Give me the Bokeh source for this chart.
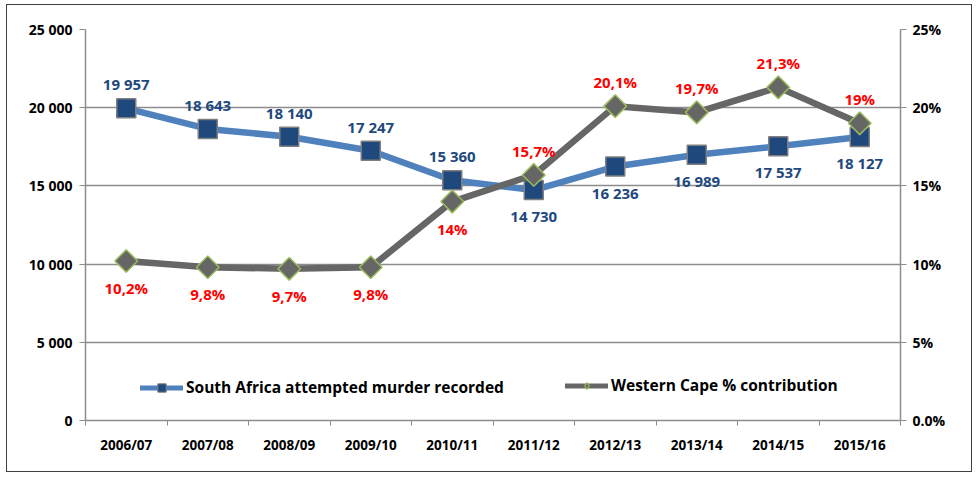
from bokeh.plotting import figure
from bokeh.models import Range1d, LinearAxis, FixedTicker, Legend, LegendItem, ColumnDataSource
from bokeh.core.properties import value
from bokeh.embed import file_html
from bokeh.resources import INLINE
import math

years = ["2006/07", "2007/08", "2008/09", "2009/10", "2010/11",
         "2011/12", "2012/13", "2013/14", "2014/15", "2015/16"]
sa_attempted = [19957, 18643, 18140, 17247, 15360, 14730, 16236, 16989, 17537, 18127]
sa_labels = ["19 957", "18 643", "18 140", "17 247", "15 360",
             "14 730", "16 236", "16 989", "17 537", "18 127"]
sa_label_side = ["above"] * 5 + ["below"] * 5
wc_pct = [10.2, 9.8, 9.7, 9.8, 14.0, 15.7, 20.1, 19.7, 21.3, 19.0]
wc_labels = ["10,2%", "9,8%", "9,7%", "9,8%", "14%",
             "15,7%", "20,1%", "19,7%", "21,3%", "19%"]
wc_label_side = ["below"] * 5 + ["above"] * 5
left_ticks = [0, 5000, 10000, 15000, 20000, 25000]
left_tick_labels = ["0", "5 000", "10 000", "15 000", "20 000", "25 000"]
right_ticks = [0, 5, 10, 15, 20, 25]
right_tick_labels = ["0.0%", "5%", "10%", "15%", "20%", "25%"]

FONT = "Open Sans"
AXIS_GRAY = "#8c8c8c"
BLUE_LINE = "#4f81bd"
BLUE_DARK = "#1f497d"
GRAY_LINE = "#666666"
GREEN = "#9bbb59"
RED = "#ff0000"

n = len(years)
xs = [i + 0.5 for i in range(n)]

p = figure(width=966, height=468, output_backend="svg", toolbar_location=None,
           x_range=Range1d(0, n), y_range=Range1d(left_ticks[0], left_ticks[-1]),
           min_border_left=78, min_border_right=73, min_border_top=24, min_border_bottom=53)
p.extra_y_ranges = {"pct": Range1d(right_ticks[0], right_ticks[-1])}
p.outline_line_color = None
p.background_fill_color = "white"
p.border_fill_color = "white"
p.styles = {"border": "1px solid #404040", "margin-left": "6px", "margin-top": "4px"}

# x axis
xa = p.xaxis[0]
xa.ticker = FixedTicker(ticks=xs, minor_ticks=list(range(n + 1)))
xa.major_label_overrides = {x: y for x, y in zip(xs, years)}
xa.major_tick_line_color = None
xa.minor_tick_line_color = AXIS_GRAY
xa.minor_tick_out = 5
xa.minor_tick_in = 0
xa.axis_line_color = AXIS_GRAY
xa.axis_line_width = 1.5
xa.major_label_text_font = FONT
xa.major_label_text_font_style = "bold"
xa.major_label_text_font_size = "13.5px"
xa.major_label_text_color = "black"
xa.major_label_standoff = 9

# left axis
ya = p.yaxis[0]
ya.ticker = FixedTicker(ticks=left_ticks, minor_ticks=[])
ya.major_label_overrides = {t: s for t, s in zip(left_ticks, left_tick_labels)}
ya.axis_line_color = AXIS_GRAY
ya.axis_line_width = 1.5
ya.major_tick_line_color = AXIS_GRAY
ya.major_tick_out = 6
ya.major_tick_in = 0
ya.major_label_text_font = FONT
ya.major_label_text_font_style = "bold"
ya.major_label_text_font_size = "14px"
ya.major_label_text_color = "black"
ya.major_label_standoff = 7

# right axis
ra = LinearAxis(y_range_name="pct", ticker=FixedTicker(ticks=right_ticks, minor_ticks=[]))
ra.major_label_overrides = {t: s for t, s in zip(right_ticks, right_tick_labels)}
ra.axis_line_color = AXIS_GRAY
ra.axis_line_width = 1.5
ra.major_tick_line_color = AXIS_GRAY
ra.major_tick_out = 6
ra.major_tick_in = 0
ra.major_label_text_font = FONT
ra.major_label_text_font_style = "bold"
ra.major_label_text_font_size = "14px"
ra.major_label_text_color = "black"
ra.major_label_standoff = 6
p.add_layout(ra, "right")

p.xgrid.visible = False
p.ygrid.ticker = FixedTicker(ticks=left_ticks[1:-1], minor_ticks=[])
p.ygrid.grid_line_color = AXIS_GRAY
p.ygrid.grid_line_width = 1.5

# series
sa_src = ColumnDataSource(dict(x=xs, y=sa_attempted, label=sa_labels,
                               off=[-24 if s == "above" else 26 for s in sa_label_side]))
wc_src = ColumnDataSource(dict(x=xs, y=wc_pct, label=wc_labels,
                               off=[-24 if s == "above" else 27 for s in wc_label_side]))

p.line("x", "y", source=sa_src, line_color=BLUE_LINE, line_width=6.5,
       line_join="round", line_cap="round")
p.scatter("x", "y", source=sa_src, marker="square", size=19,
          fill_color=BLUE_DARK, line_color="#7f7f7f", line_width=1.5)

p.line("x", "y", source=wc_src, y_range_name="pct", line_color=GRAY_LINE,
       line_width=6.5, line_join="round", line_cap="round")
p.scatter("x", "y", source=wc_src, y_range_name="pct", marker="square",
          angle=math.pi / 4, size=16, fill_color=GRAY_LINE,
          line_color=GREEN, line_width=1.5)

p.text("x", "y", text="label", source=sa_src, y_offset="off",
       text_align="center", text_baseline="middle", text_color=BLUE_DARK,
       text_font=value(FONT), text_font_style="bold", text_font_size="15px")
p.text("x", "y", text="label", source=wc_src, y_range_name="pct", y_offset="off",
       text_align="center", text_baseline="middle", text_color=RED,
       text_font=value(FONT), text_font_style="bold", text_font_size="15px")

# legend-only glyphs (hidden renderers, thinner line and small markers as in the legend)
sa_leg_line = p.line("x", "y", source=sa_src, line_color=BLUE_LINE, line_width=5,
                     line_cap="round", visible=False)
sa_leg_pt = p.scatter("x", "y", source=sa_src, marker="square",
                      fill_color=BLUE_DARK, line_color="#7f7f7f", line_width=1, visible=False)
wc_leg_line = p.line("x", "y", source=wc_src, y_range_name="pct", line_color=GRAY_LINE,
                     line_width=5, line_cap="round", visible=False)
wc_leg_pt = p.scatter("x", "y", source=wc_src, y_range_name="pct", marker="diamond",
                      fill_color=GRAY_LINE, line_color=GREEN, line_width=1.2, visible=False)

def make_legend(label, renderers, loc, gh):
    lg = Legend(items=[LegendItem(label=label, renderers=renderers)], location=loc,
                orientation="horizontal", border_line_color=None,
                background_fill_alpha=0, padding=0, margin=0, spacing=0,
                glyph_width=43, glyph_height=gh, label_standoff=3, label_height=gh,
                label_text_font=FONT, label_text_font_style="bold",
                label_text_font_size="15.5px", label_text_color="black",
                label_text_baseline="middle", click_policy="none")
    p.add_layout(lg, "center")

make_legend("South Africa attempted murder recorded", [sa_leg_line, sa_leg_pt], (55, 22), 21)
make_legend("Western Cape % contribution", [wc_leg_line, wc_leg_pt], (480, 24), 17)

open("out.html", "w").write(file_html(p, INLINE))
